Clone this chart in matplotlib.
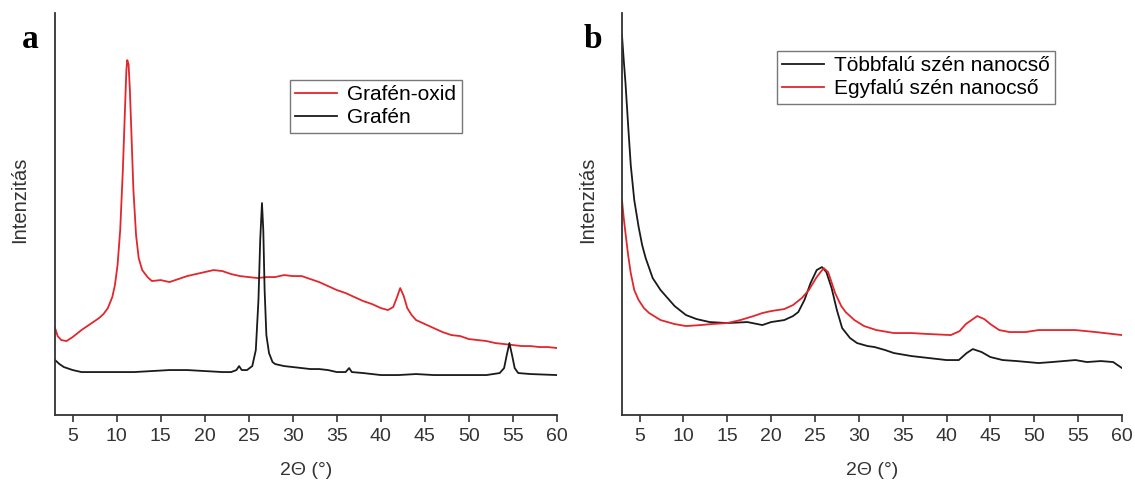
import matplotlib.pyplot as plt

plt.rcParams['font.family'] = ['Liberation Sans', 'DejaVu Sans']

# panel a: graphene oxide / graphene
a_go_x = [3.0, 3.3, 3.7, 4.3, 5.0, 6.0, 7.0, 8.0, 8.5, 9.0, 9.5, 9.8, 10.1, 10.4, 10.7, 10.9, 11.1, 11.2,
          11.35, 11.5, 11.7, 11.9, 12.2, 12.5, 12.9, 13.5, 14, 15, 16, 17, 18, 19, 20, 21, 22, 23, 24, 25,
          26, 27, 28, 29, 30, 31, 32, 33, 34, 35, 36, 37, 38, 39, 40, 40.8, 41.4, 41.8, 42.2, 42.6, 43.0,
          43.5, 44, 45, 46, 47, 48, 49, 50, 51, 52, 53, 54, 55, 56, 57, 58, 59, 60]
a_go_y = [87, 79, 75, 74, 78, 85, 91, 97, 101, 107, 118, 130, 150, 185, 245, 295, 345, 355,
          351, 325, 275, 225, 180, 157, 145, 138, 134, 135, 133, 136, 139, 141, 143, 145, 144, 141, 139, 138,
          137, 138, 138, 140, 139, 139, 136, 133, 129, 125, 122, 118, 114, 111, 107, 105, 108, 117, 127, 119, 107,
          100, 95, 91, 87, 83, 80, 79, 76, 75, 74, 72, 71, 70, 69, 69, 68, 68, 67]

a_g_x = [3.0, 3.5, 4, 5, 6, 8, 10, 12, 14, 16, 18, 20, 22, 23, 23.6, 23.9, 24.2, 24.8, 25.4, 25.8, 26.1,
         26.3, 26.5, 26.65, 26.8, 27.0, 27.3, 27.7, 28, 29, 30, 31, 32, 33, 34, 35, 36, 36.4, 36.7, 38, 40,
         42, 44, 46, 48, 50, 52, 53.5, 54, 54.3, 54.6, 54.9, 55.2, 55.6, 57, 60]
a_g_y = [55, 51, 48, 45, 43, 43, 43, 43, 44, 45, 45, 44, 43, 43, 45, 49, 45, 45, 49, 65, 115,
         175, 212, 185, 125, 80, 62, 53, 51, 49, 48, 47, 46, 46, 45, 43, 43, 47, 43, 42, 40,
         40, 41, 40, 40, 40, 40, 42, 47, 60, 72, 60, 47, 42, 41, 40]

# panel b: multi-wall / single-wall carbon nanotubes
b_mw_x = [3.0, 3.2, 3.4, 3.7, 4.0, 4.4, 4.9, 5.3, 5.7, 6.5, 7.4, 8.2, 9, 10.3, 11.5, 13, 15, 17.3, 19, 20,
          21.5, 22.5, 23.1, 23.8, 24.5, 25.2, 25.8, 26.3, 26.9, 27.5, 28.1, 29, 29.8, 31, 31.8, 33, 34, 36,
          38, 40, 41.4, 42.3, 43, 44, 45, 46.4, 48, 50.5, 52, 54.7, 56, 57.6, 59, 60]
b_mw_y = [380, 355, 332, 290, 250, 215, 188, 170, 157, 137, 125, 117, 109, 100, 96, 93, 92, 93, 90, 93,
          95, 99, 103, 115, 132, 145, 148, 143, 127, 105, 87, 77, 72, 69, 68, 65, 62, 59,
          57, 55, 55, 62, 66, 63, 58, 55, 54, 52, 53, 55, 53, 54, 53, 47]

b_sw_x = [3.0, 3.2, 3.4, 3.7, 4.0, 4.4, 4.9, 5.5, 6.1, 7.4, 9, 10.3, 12, 13.2, 15, 16.5, 18, 19, 20, 21.5,
          22.5, 23.5, 24.3, 25.2, 26.0, 26.5, 27.0, 27.3, 28, 28.5, 29.5, 30.6, 32, 34, 36, 38, 40.5, 41.5,
          42.2, 43.5, 44.3, 45, 46, 47.2, 49, 50.5, 52, 54.7, 57, 60]
b_sw_y = [215, 197, 182, 160, 142, 125, 115, 107, 102, 95, 91, 89, 90, 91, 92, 95, 99, 102, 104, 106,
          110, 117, 125, 138, 147, 143, 130, 122, 109, 103, 95, 89, 85, 82, 82, 81, 80, 84,
          91, 99, 96, 91, 85, 83, 83, 85, 85, 85, 83, 80]

RED = '#e3262b'
BLACK = '#1a1a1a'
xticks = list(range(5, 61, 5))

fig = plt.figure(figsize=(11.35, 4.86), dpi=100)
ax_a = fig.add_axes([0.0485, 0.146, 0.4422, 0.827])
ax_b = fig.add_axes([0.548, 0.146, 0.4405, 0.827])

ax_a.plot(a_go_x, a_go_y, color=RED, lw=1.3, label='Grafén-oxid')
ax_a.plot(a_g_x, a_g_y, color=BLACK, lw=1.3, label='Grafén')
ax_b.plot(b_mw_x, b_mw_y, color=BLACK, lw=1.3, label='Többfalú szén nanocső')
ax_b.plot(b_sw_x, b_sw_y, color=RED, lw=1.3, label='Egyfalú szén nanocső')

for ax, ylab_x in ((ax_a, -0.052), (ax_b, -0.05)):
    ax.set_xlim(3, 60)
    ax.set_ylim(0, 402)
    ax.set_xticks(xticks)
    ax.set_yticks([])
    for s in ('top', 'right'):
        ax.spines[s].set_visible(False)
    for s in ('left', 'bottom'):
        ax.spines[s].set_linewidth(1.3)
        ax.spines[s].set_color('#333333')
    ax.tick_params(axis='x', direction='out', length=5, width=1.2, labelsize=14, pad=4, colors='#333333')
    ax.set_xlabel('2Θ (°)', fontsize=14, color='#333333')
    ax.set_ylabel('Intenzitás', fontsize=14.5, color='#333333')
    ax.xaxis.set_label_coords(0.5, -0.117)
    ax.yaxis.set_label_coords(ylab_x, 0.535)

leg_kw = dict(loc='upper left', bbox_transform=fig.transFigure, fancybox=False, edgecolor='#777777',
              fontsize=15, handlelength=2.0, borderpad=0.25, labelspacing=0.2, handletextpad=0.5,
              borderaxespad=0, framealpha=1)
ax_a.legend(bbox_to_anchor=(290 / 1135, 1 - 80 / 486), **leg_kw)
ax_b.legend(bbox_to_anchor=(777 / 1135, 1 - 51 / 486), **leg_kw)

fig.text(22 / 1135, 1 - 48 / 486, 'a', fontsize=24, fontweight='bold', family='Liberation Serif')
fig.text(584 / 1135, 1 - 48 / 486, 'b', fontsize=24, fontweight='bold', family='Liberation Serif')

fig.savefig('out.png', dpi=100)
